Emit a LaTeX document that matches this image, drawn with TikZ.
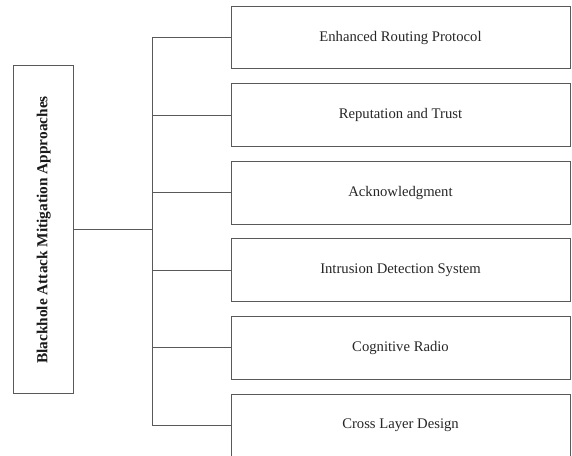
\documentclass[tikz,border=0pt]{standalone}
\usepackage{fontspec}
\setmainfont{Liberation Serif}
\usepackage{tikz}

\begin{document}
\begin{tikzpicture}[x=0.75pt, y=-0.75pt,
    line/.style={draw=black!65, line width=0.75pt},
    branchbox/.style={line, minimum width=254.25pt, minimum height=47pt,
      inner sep=0pt, font=\fontsize{11}{13}\selectfont, text=black!85},
    rootbox/.style={line, rotate=90, minimum width=246pt, minimum height=44.8pt,
      inner sep=0pt, font=\fontsize{11.5}{13}\selectfont\bfseries, text=black!90}]
        \useasboundingbox (0, 0) rectangle (572, 456);
        \node[rootbox] (root) at (43.8, 230) {Blackhole Attack Mitigation Approaches};
        \coordinate (jn) at (152, 230);
        \foreach \i/\lbl in {0/Enhanced Routing Protocol, 1/Reputation and Trust,
            2/Acknowledgment, 3/Intrusion Detection System, 4/Cognitive Radio,
            5/Cross Layer Design}
          \node[branchbox] (b\i) at (400.5, {37.5 + 77.6 * \i}) {\lbl};
        \draw[line] (root.south) -- (jn);
        \draw[line] (jn |- b0.west) -- (jn |- b5.west);
        \foreach \i in {0, ..., 5}
          \draw[line] (jn |- b\i.west) -- (b\i.west);
      \end{tikzpicture}
\end{document}
